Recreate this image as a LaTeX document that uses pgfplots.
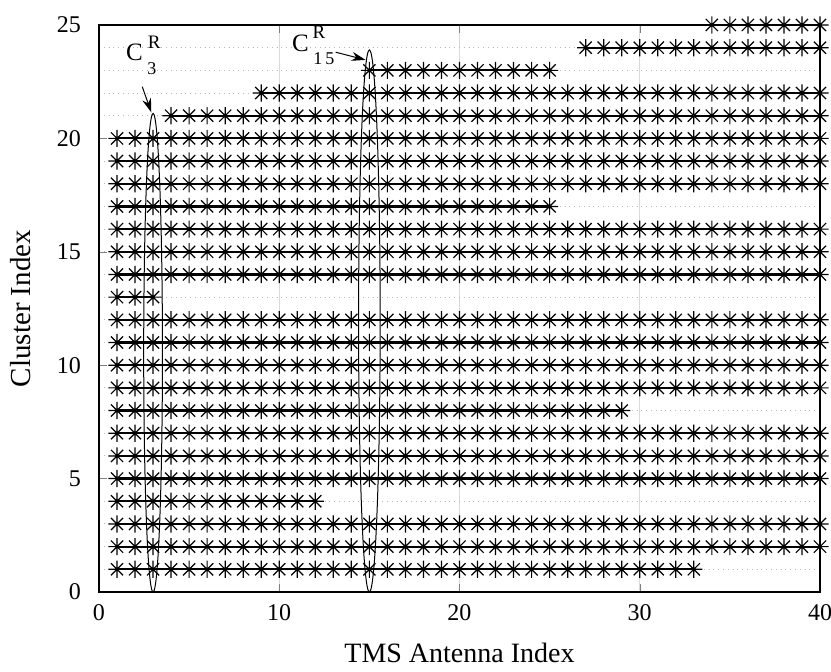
\documentclass[border=0pt]{standalone}
\usepackage{fontspec}
\setmainfont{Liberation Serif}
\usepackage{pgfplots}
\pgfplotsset{compat=1.18}
\usetikzlibrary{arrows.meta}
\pgfdeclareplotmark{mstar}{%
  \pgfpathmoveto{\pgfqpoint{0pt}{\pgfplotmarksize}}%
  \pgfpathlineto{\pgfqpoint{0pt}{-\pgfplotmarksize}}%
  \pgfpathmoveto{\pgfqpoint{\pgfplotmarksize}{0pt}}%
  \pgfpathlineto{\pgfqpoint{-\pgfplotmarksize}{0pt}}%
  \pgfpathmoveto{\pgfqpoint{0.7071\pgfplotmarksize}{0.7071\pgfplotmarksize}}%
  \pgfpathlineto{\pgfqpoint{-0.7071\pgfplotmarksize}{-0.7071\pgfplotmarksize}}%
  \pgfpathmoveto{\pgfqpoint{-0.7071\pgfplotmarksize}{0.7071\pgfplotmarksize}}%
  \pgfpathlineto{\pgfqpoint{0.7071\pgfplotmarksize}{-0.7071\pgfplotmarksize}}%
  \pgfusepathqstroke}
\begin{document}
\begin{tikzpicture}
\begin{axis}[
  scale only axis, width=360.5pt, height=283.5pt,
  xmin=0, xmax=40, ymin=0, ymax=25,
  xtick={0,10,20,30,40}, ytick={0,5,10,15,20,25},
  minor ytick={1,...,24},
  xmajorgrids, yminorgrids,
  major grid style={gray!30, solid, line width=0.5pt},
  minor grid style={gray!55, dotted, line width=0.5pt},
  minor tick length=0pt, major tick length=4pt,
  tick align=inside,
  axis line style={black, line width=0.6pt},
  clip=false,
  /pgf/number format/assume math mode=true,
  tick label style={font=\fontsize{12}{14}\selectfont},
  yticklabel style={xshift=-5.5pt},
  xticklabel style={yshift=-2.5pt},
  xlabel={TMS Antenna Index}, ylabel={Cluster Index},
  xlabel style={at={(axis description cs:0.5,-0.1076)}, anchor=center, font=\fontsize{14}{16}\selectfont},
  ylabel style={at={(axis description cs:-0.1082,0.5)}, anchor=center, font=\fontsize{14.5}{16}\selectfont},
  row/.style={black, solid, line width=1.1pt, mark=mstar, mark size=4.3pt, mark options={solid, black, line width=0.6pt}},
]
\addplot[row] coordinates {(1,1)(2,1)(3,1)(4,1)(5,1)(6,1)(7,1)(8,1)(9,1)(10,1)(11,1)(12,1)(13,1)(14,1)(15,1)(16,1)(17,1)(18,1)(19,1)(20,1)(21,1)(22,1)(23,1)(24,1)(25,1)(26,1)(27,1)(28,1)(29,1)(30,1)(31,1)(32,1)(33,1)};
\addplot[row] coordinates {(1,2)(2,2)(3,2)(4,2)(5,2)(6,2)(7,2)(8,2)(9,2)(10,2)(11,2)(12,2)(13,2)(14,2)(15,2)(16,2)(17,2)(18,2)(19,2)(20,2)(21,2)(22,2)(23,2)(24,2)(25,2)(26,2)(27,2)(28,2)(29,2)(30,2)(31,2)(32,2)(33,2)(34,2)(35,2)(36,2)(37,2)(38,2)(39,2)(40,2)};
\addplot[row] coordinates {(1,3)(2,3)(3,3)(4,3)(5,3)(6,3)(7,3)(8,3)(9,3)(10,3)(11,3)(12,3)(13,3)(14,3)(15,3)(16,3)(17,3)(18,3)(19,3)(20,3)(21,3)(22,3)(23,3)(24,3)(25,3)(26,3)(27,3)(28,3)(29,3)(30,3)(31,3)(32,3)(33,3)(34,3)(35,3)(36,3)(37,3)(38,3)(39,3)(40,3)};
\addplot[row] coordinates {(1,4)(2,4)(3,4)(4,4)(5,4)(6,4)(7,4)(8,4)(9,4)(10,4)(11,4)(12,4)};
\addplot[row] coordinates {(1,5)(2,5)(3,5)(4,5)(5,5)(6,5)(7,5)(8,5)(9,5)(10,5)(11,5)(12,5)(13,5)(14,5)(15,5)(16,5)(17,5)(18,5)(19,5)(20,5)(21,5)(22,5)(23,5)(24,5)(25,5)(26,5)(27,5)(28,5)(29,5)(30,5)(31,5)(32,5)(33,5)(34,5)(35,5)(36,5)(37,5)(38,5)(39,5)(40,5)};
\addplot[row] coordinates {(1,6)(2,6)(3,6)(4,6)(5,6)(6,6)(7,6)(8,6)(9,6)(10,6)(11,6)(12,6)(13,6)(14,6)(15,6)(16,6)(17,6)(18,6)(19,6)(20,6)(21,6)(22,6)(23,6)(24,6)(25,6)(26,6)(27,6)(28,6)(29,6)(30,6)(31,6)(32,6)(33,6)(34,6)(35,6)(36,6)(37,6)(38,6)(39,6)(40,6)};
\addplot[row] coordinates {(1,7)(2,7)(3,7)(4,7)(5,7)(6,7)(7,7)(8,7)(9,7)(10,7)(11,7)(12,7)(13,7)(14,7)(15,7)(16,7)(17,7)(18,7)(19,7)(20,7)(21,7)(22,7)(23,7)(24,7)(25,7)(26,7)(27,7)(28,7)(29,7)(30,7)(31,7)(32,7)(33,7)(34,7)(35,7)(36,7)(37,7)(38,7)(39,7)(40,7)};
\addplot[row] coordinates {(1,8)(2,8)(3,8)(4,8)(5,8)(6,8)(7,8)(8,8)(9,8)(10,8)(11,8)(12,8)(13,8)(14,8)(15,8)(16,8)(17,8)(18,8)(19,8)(20,8)(21,8)(22,8)(23,8)(24,8)(25,8)(26,8)(27,8)(28,8)(29,8)};
\addplot[row] coordinates {(1,9)(2,9)(3,9)(4,9)(5,9)(6,9)(7,9)(8,9)(9,9)(10,9)(11,9)(12,9)(13,9)(14,9)(15,9)(16,9)(17,9)(18,9)(19,9)(20,9)(21,9)(22,9)(23,9)(24,9)(25,9)(26,9)(27,9)(28,9)(29,9)(30,9)(31,9)(32,9)(33,9)(34,9)(35,9)(36,9)(37,9)(38,9)(39,9)(40,9)};
\addplot[row] coordinates {(1,10)(2,10)(3,10)(4,10)(5,10)(6,10)(7,10)(8,10)(9,10)(10,10)(11,10)(12,10)(13,10)(14,10)(15,10)(16,10)(17,10)(18,10)(19,10)(20,10)(21,10)(22,10)(23,10)(24,10)(25,10)(26,10)(27,10)(28,10)(29,10)(30,10)(31,10)(32,10)(33,10)(34,10)(35,10)(36,10)(37,10)(38,10)(39,10)(40,10)};
\addplot[row] coordinates {(1,11)(2,11)(3,11)(4,11)(5,11)(6,11)(7,11)(8,11)(9,11)(10,11)(11,11)(12,11)(13,11)(14,11)(15,11)(16,11)(17,11)(18,11)(19,11)(20,11)(21,11)(22,11)(23,11)(24,11)(25,11)(26,11)(27,11)(28,11)(29,11)(30,11)(31,11)(32,11)(33,11)(34,11)(35,11)(36,11)(37,11)(38,11)(39,11)(40,11)};
\addplot[row] coordinates {(1,12)(2,12)(3,12)(4,12)(5,12)(6,12)(7,12)(8,12)(9,12)(10,12)(11,12)(12,12)(13,12)(14,12)(15,12)(16,12)(17,12)(18,12)(19,12)(20,12)(21,12)(22,12)(23,12)(24,12)(25,12)(26,12)(27,12)(28,12)(29,12)(30,12)(31,12)(32,12)(33,12)(34,12)(35,12)(36,12)(37,12)(38,12)(39,12)(40,12)};
\addplot[row] coordinates {(1,13)(2,13)(3,13)};
\addplot[row] coordinates {(1,14)(2,14)(3,14)(4,14)(5,14)(6,14)(7,14)(8,14)(9,14)(10,14)(11,14)(12,14)(13,14)(14,14)(15,14)(16,14)(17,14)(18,14)(19,14)(20,14)(21,14)(22,14)(23,14)(24,14)(25,14)(26,14)(27,14)(28,14)(29,14)(30,14)(31,14)(32,14)(33,14)(34,14)(35,14)(36,14)(37,14)(38,14)(39,14)(40,14)};
\addplot[row] coordinates {(1,15)(2,15)(3,15)(4,15)(5,15)(6,15)(7,15)(8,15)(9,15)(10,15)(11,15)(12,15)(13,15)(14,15)(15,15)(16,15)(17,15)(18,15)(19,15)(20,15)(21,15)(22,15)(23,15)(24,15)(25,15)(26,15)(27,15)(28,15)(29,15)(30,15)(31,15)(32,15)(33,15)(34,15)(35,15)(36,15)(37,15)(38,15)(39,15)(40,15)};
\addplot[row] coordinates {(1,16)(2,16)(3,16)(4,16)(5,16)(6,16)(7,16)(8,16)(9,16)(10,16)(11,16)(12,16)(13,16)(14,16)(15,16)(16,16)(17,16)(18,16)(19,16)(20,16)(21,16)(22,16)(23,16)(24,16)(25,16)(26,16)(27,16)(28,16)(29,16)(30,16)(31,16)(32,16)(33,16)(34,16)(35,16)(36,16)(37,16)(38,16)(39,16)(40,16)};
\addplot[row] coordinates {(1,17)(2,17)(3,17)(4,17)(5,17)(6,17)(7,17)(8,17)(9,17)(10,17)(11,17)(12,17)(13,17)(14,17)(15,17)(16,17)(17,17)(18,17)(19,17)(20,17)(21,17)(22,17)(23,17)(24,17)(25,17)};
\addplot[row] coordinates {(1,18)(2,18)(3,18)(4,18)(5,18)(6,18)(7,18)(8,18)(9,18)(10,18)(11,18)(12,18)(13,18)(14,18)(15,18)(16,18)(17,18)(18,18)(19,18)(20,18)(21,18)(22,18)(23,18)(24,18)(25,18)(26,18)(27,18)(28,18)(29,18)(30,18)(31,18)(32,18)(33,18)(34,18)(35,18)(36,18)(37,18)(38,18)(39,18)(40,18)};
\addplot[row] coordinates {(1,19)(2,19)(3,19)(4,19)(5,19)(6,19)(7,19)(8,19)(9,19)(10,19)(11,19)(12,19)(13,19)(14,19)(15,19)(16,19)(17,19)(18,19)(19,19)(20,19)(21,19)(22,19)(23,19)(24,19)(25,19)(26,19)(27,19)(28,19)(29,19)(30,19)(31,19)(32,19)(33,19)(34,19)(35,19)(36,19)(37,19)(38,19)(39,19)(40,19)};
\addplot[row] coordinates {(1,20)(2,20)(3,20)(4,20)(5,20)(6,20)(7,20)(8,20)(9,20)(10,20)(11,20)(12,20)(13,20)(14,20)(15,20)(16,20)(17,20)(18,20)(19,20)(20,20)(21,20)(22,20)(23,20)(24,20)(25,20)(26,20)(27,20)(28,20)(29,20)(30,20)(31,20)(32,20)(33,20)(34,20)(35,20)(36,20)(37,20)(38,20)(39,20)(40,20)};
\addplot[row] coordinates {(4,21)(5,21)(6,21)(7,21)(8,21)(9,21)(10,21)(11,21)(12,21)(13,21)(14,21)(15,21)(16,21)(17,21)(18,21)(19,21)(20,21)(21,21)(22,21)(23,21)(24,21)(25,21)(26,21)(27,21)(28,21)(29,21)(30,21)(31,21)(32,21)(33,21)(34,21)(35,21)(36,21)(37,21)(38,21)(39,21)(40,21)};
\addplot[row] coordinates {(9,22)(10,22)(11,22)(12,22)(13,22)(14,22)(15,22)(16,22)(17,22)(18,22)(19,22)(20,22)(21,22)(22,22)(23,22)(24,22)(25,22)(26,22)(27,22)(28,22)(29,22)(30,22)(31,22)(32,22)(33,22)(34,22)(35,22)(36,22)(37,22)(38,22)(39,22)(40,22)};
\addplot[row] coordinates {(15,23)(16,23)(17,23)(18,23)(19,23)(20,23)(21,23)(22,23)(23,23)(24,23)(25,23)};
\addplot[row] coordinates {(27,24)(28,24)(29,24)(30,24)(31,24)(32,24)(33,24)(34,24)(35,24)(36,24)(37,24)(38,24)(39,24)(40,24)};
\addplot[row] coordinates {(34,25)(35,25)(36,25)(37,25)(38,25)(39,25)(40,25)};
% ellipses
\draw[black, line width=0.5pt] (axis cs:3,10.55) ellipse [x radius=0.52, y radius=10.55];
\draw[black, line width=0.5pt] (axis cs:15,11.95) ellipse [x radius=0.6, y radius=11.95];
% arrows
\draw[black, line width=0.5pt, -{Stealth[length=7pt,width=4.5pt]}] (axis cs:2.40,22.28) -- (axis cs:2.90,21.15);
\draw[black, line width=0.5pt, -{Stealth[length=7pt,width=4.5pt]}] (axis cs:13.13,23.80) -- (axis cs:14.79,23.46);
% labels
\node[font=\fontsize{12.5}{14}\selectfont, inner sep=0pt] at (axis cs:1.97,23.79) {C};
\node[font=\fontsize{9.5}{10}\selectfont, inner sep=0pt] at (axis cs:3.06,24.23) {R};
\node[font=\fontsize{9}{10}\selectfont, inner sep=0pt] at (axis cs:2.94,23.08) {3};
\node[font=\fontsize{12.5}{14}\selectfont, inner sep=0pt] at (axis cs:11.18,24.20) {C};
\node[font=\fontsize{9.5}{10}\selectfont, inner sep=0pt] at (axis cs:12.20,24.67) {R};
\node[font=\fontsize{9}{10}\selectfont, inner sep=0pt] at (axis cs:12.48,23.52) {1\hspace{1.5pt}5};
\end{axis}
\pgfresetboundingbox
\path ([shift={(-49.5pt,-40pt)}]current axis.south west) rectangle ([shift={(5.5pt,12.5pt)}]current axis.north east);
\end{tikzpicture}
\end{document}
